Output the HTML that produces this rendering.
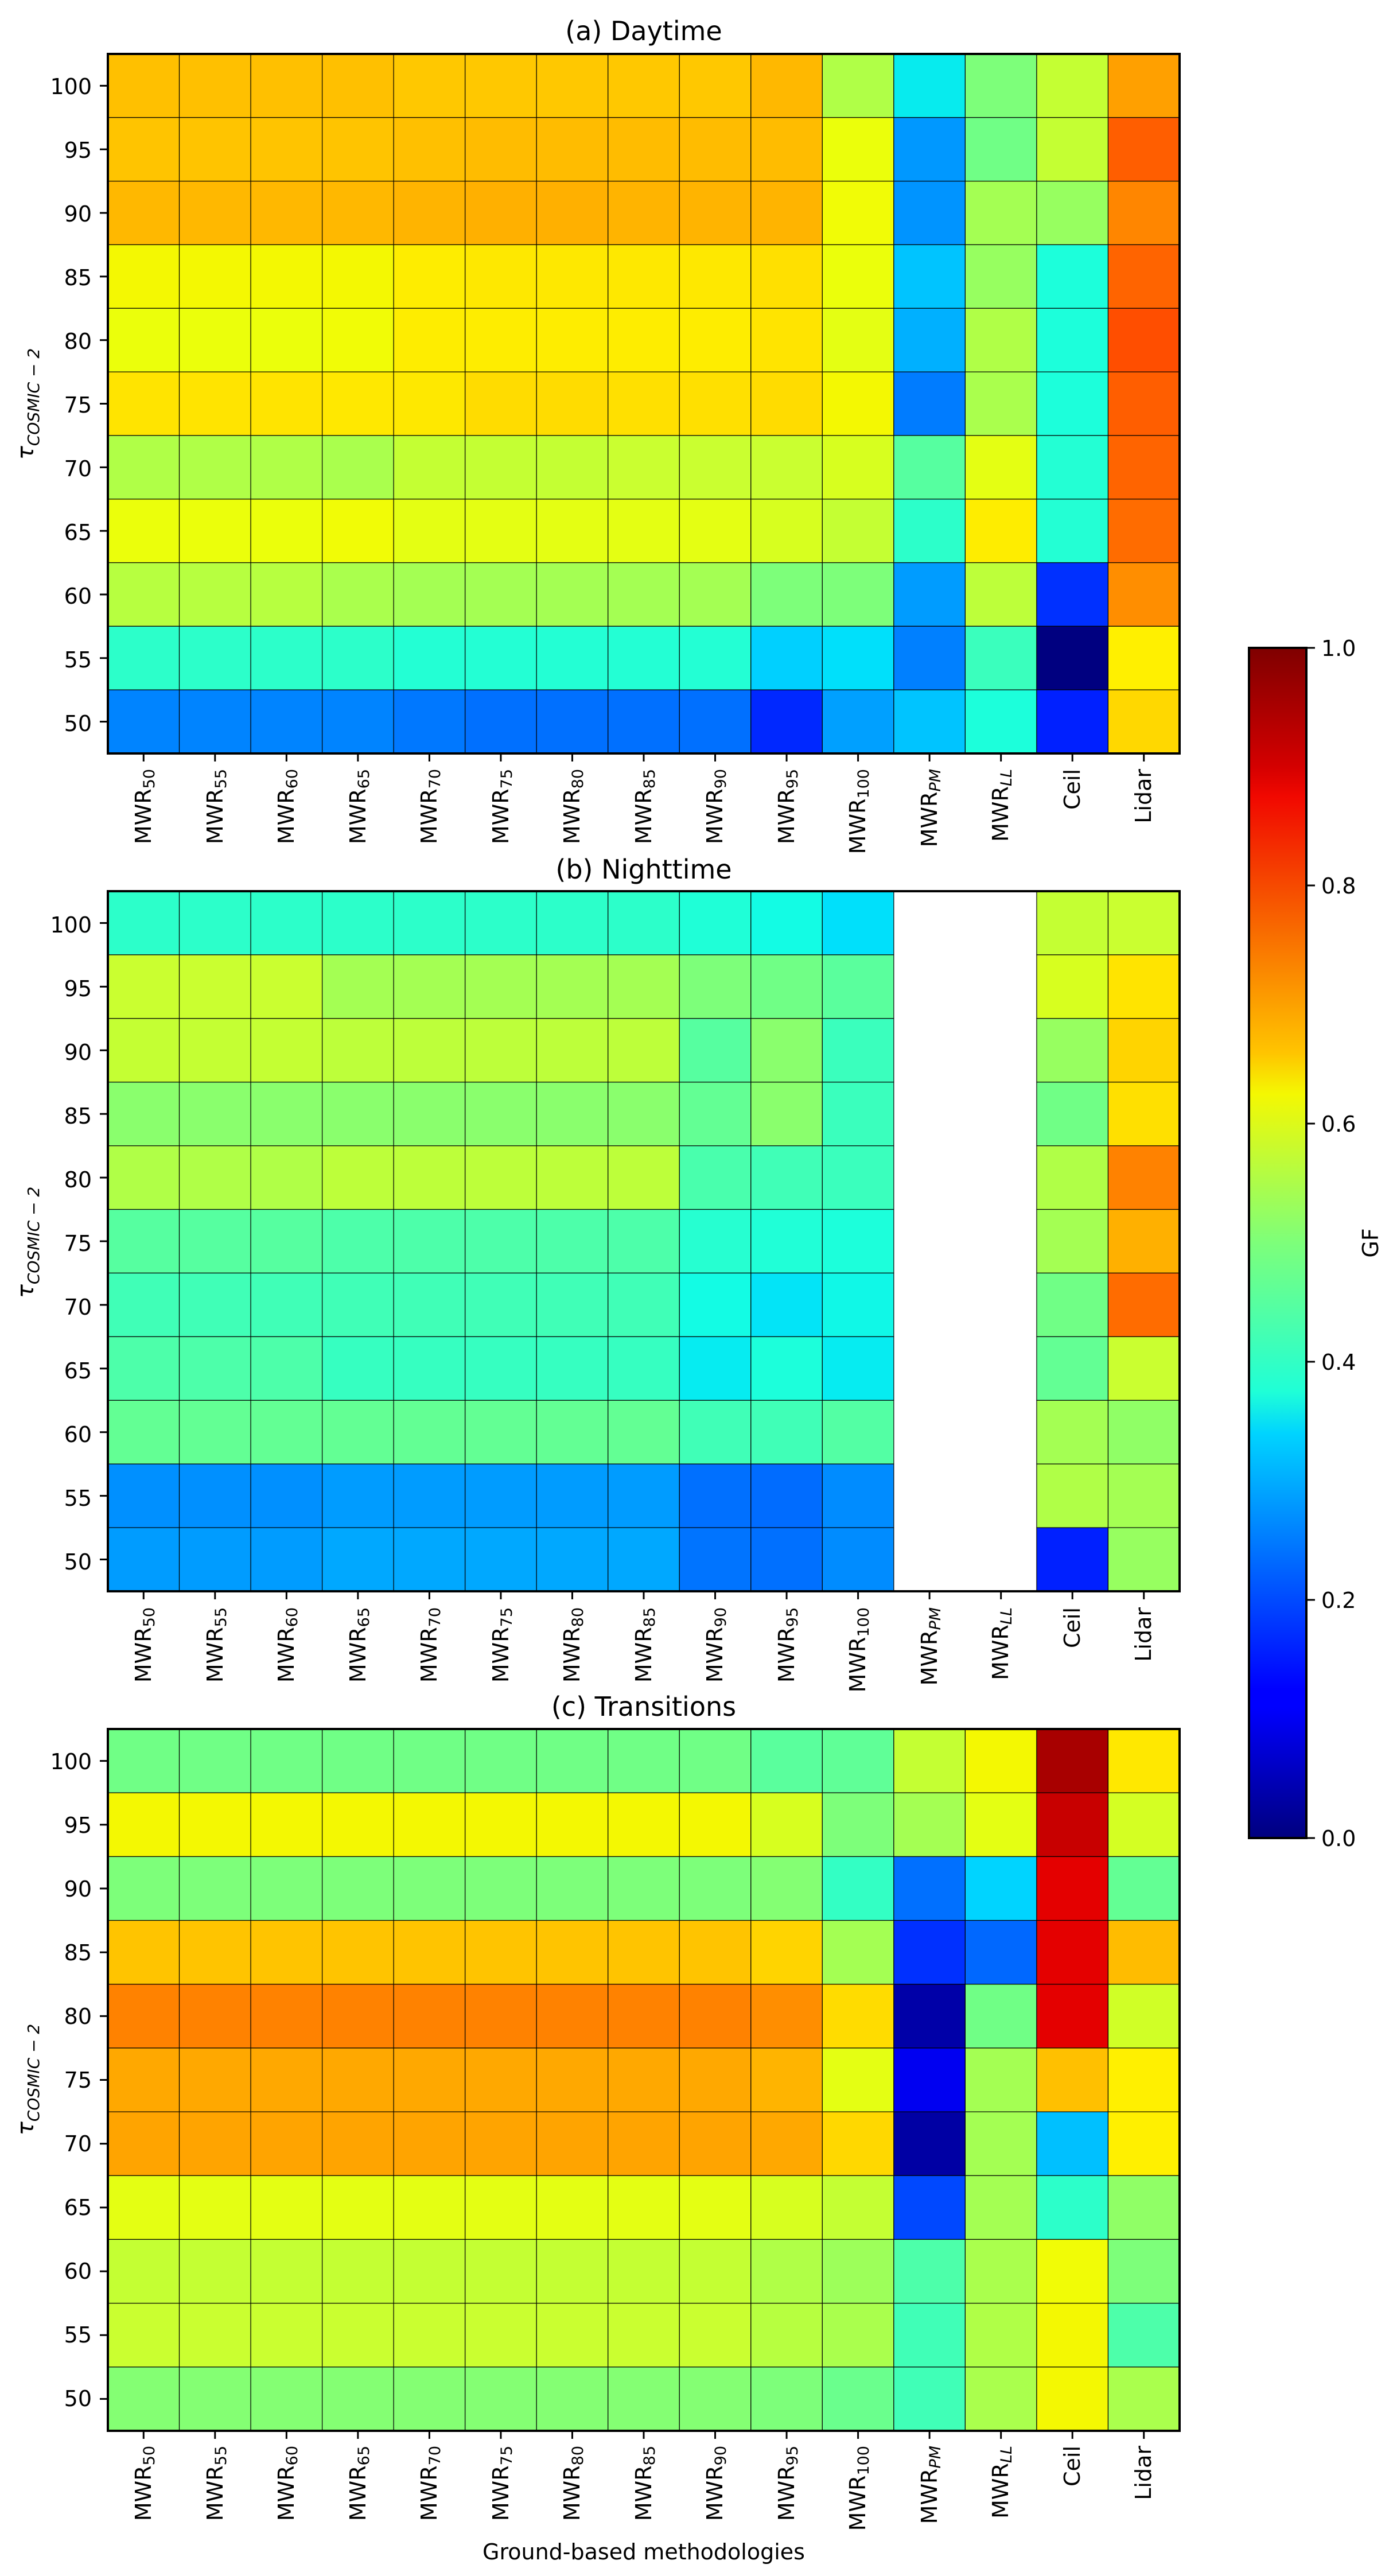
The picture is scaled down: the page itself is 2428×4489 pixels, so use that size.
<!DOCTYPE html>
<html><head><meta charset="utf-8"><style>html,body{margin:0;padding:0;background:#fff;}svg{display:block;}text{font-family:"DejaVu Sans","Liberation Sans",sans-serif;fill:#000;}</style></head>
<body>
<svg id="s" width="2428" height="4489" xmlns="http://www.w3.org/2000/svg">
<defs><linearGradient id="jet" x1="0" y1="1" x2="0" y2="0">
<stop offset="0" stop-color="#00007F"/><stop offset="0.11" stop-color="#0000FF"/><stop offset="0.125" stop-color="#0000FF"/><stop offset="0.34" stop-color="#00D4FF"/><stop offset="0.375" stop-color="#1FFFD7"/><stop offset="0.5" stop-color="#7DFF7A"/><stop offset="0.625" stop-color="#F4F802"/><stop offset="0.66" stop-color="#FFC400"/><stop offset="0.875" stop-color="#F10800"/><stop offset="0.9" stop-color="#D40000"/><stop offset="1" stop-color="#7F0000"/></linearGradient></defs>
<g id="cells"></g>
<g id="frames"></g>
<!-- titles -->
<text x="1122" y="70" font-size="46" text-anchor="middle">(a) Daytime</text>
<text x="1122" y="1531" font-size="46" text-anchor="middle">(b) Nighttime</text>
<text x="1122" y="2990" font-size="46" text-anchor="middle">(c) Transitions</text>
<!-- y labels -->
<text transform="translate(58,704) rotate(-90)" font-size="40" text-anchor="middle"><tspan font-style="italic">τ</tspan><tspan font-size="28" font-style="italic" dy="10">COSMIC − 2</tspan></text>
<text transform="translate(58,2165) rotate(-90)" font-size="40" text-anchor="middle"><tspan font-style="italic">τ</tspan><tspan font-size="28" font-style="italic" dy="10">COSMIC − 2</tspan></text>
<text transform="translate(58,3624) rotate(-90)" font-size="40" text-anchor="middle"><tspan font-style="italic">τ</tspan><tspan font-size="28" font-style="italic" dy="10">COSMIC − 2</tspan></text>
<g id="ylab" font-size="38" text-anchor="end">
<text x="160" y="164">100</text><text x="160" y="275">95</text><text x="160" y="386">90</text><text x="160" y="497">85</text><text x="160" y="608">80</text><text x="160" y="719">75</text><text x="160" y="830">70</text><text x="160" y="941">65</text><text x="160" y="1052">60</text><text x="160" y="1163">55</text><text x="160" y="1274">50</text>
<text x="160" y="1625">100</text><text x="160" y="1736">95</text><text x="160" y="1847">90</text><text x="160" y="1958">85</text><text x="160" y="2069">80</text><text x="160" y="2180">75</text><text x="160" y="2291">70</text><text x="160" y="2402">65</text><text x="160" y="2513">60</text><text x="160" y="2624">55</text><text x="160" y="2735">50</text>
<text x="160" y="3083">100</text><text x="160" y="3194">95</text><text x="160" y="3305">90</text><text x="160" y="3416">85</text><text x="160" y="3527">80</text><text x="160" y="3638">75</text><text x="160" y="3749">70</text><text x="160" y="3860">65</text><text x="160" y="3971">60</text><text x="160" y="4082">55</text><text x="160" y="4193">50</text>
</g>
<g id="xl1" font-size="38" text-anchor="end">
<text transform="translate(263,1340) rotate(-90)">MWR<tspan font-size="27" dy="6">50</tspan></text>
<text transform="translate(388,1340) rotate(-90)">MWR<tspan font-size="27" dy="6">55</tspan></text>
<text transform="translate(512,1340) rotate(-90)">MWR<tspan font-size="27" dy="6">60</tspan></text>
<text transform="translate(637,1340) rotate(-90)">MWR<tspan font-size="27" dy="6">65</tspan></text>
<text transform="translate(761,1340) rotate(-90)">MWR<tspan font-size="27" dy="6">70</tspan></text>
<text transform="translate(886,1340) rotate(-90)">MWR<tspan font-size="27" dy="6">75</tspan></text>
<text transform="translate(1010,1340) rotate(-90)">MWR<tspan font-size="27" dy="6">80</tspan></text>
<text transform="translate(1135,1340) rotate(-90)">MWR<tspan font-size="27" dy="6">85</tspan></text>
<text transform="translate(1259,1340) rotate(-90)">MWR<tspan font-size="27" dy="6">90</tspan></text>
<text transform="translate(1384,1340) rotate(-90)">MWR<tspan font-size="27" dy="6">95</tspan></text>
<text transform="translate(1508,1340) rotate(-90)">MWR<tspan font-size="27" dy="6">100</tspan></text>
<text transform="translate(1633,1340) rotate(-90)">MWR<tspan font-size="27" dy="6" font-style="italic">PM</tspan></text>
<text transform="translate(1757,1340) rotate(-90)">MWR<tspan font-size="27" dy="6" font-style="italic">LL</tspan></text>
<text transform="translate(1882,1340) rotate(-90)">Ceil</text>
<text transform="translate(2006,1340) rotate(-90)">Lidar</text>
</g>
<use href="#xl1" y="1461"/>
<use href="#xl1" y="2922"/>
<text x="1122" y="4460" font-size="38" text-anchor="middle">Ground-based methodologies</text>
<!-- colorbar -->
<rect x="2177" y="1129" width="100" height="2074" fill="url(#jet)" stroke="#000" stroke-width="4"/>
<g stroke="#000" stroke-width="3">
<line x1="2277" y1="1129" x2="2292" y2="1129"/><line x1="2277" y1="1543" x2="2292" y2="1543"/><line x1="2277" y1="1958" x2="2292" y2="1958"/><line x1="2277" y1="2373" x2="2292" y2="2373"/><line x1="2277" y1="2788" x2="2292" y2="2788"/><line x1="2277" y1="3203" x2="2292" y2="3203"/></g>
<g font-size="38"><text x="2303" y="1143">1.0</text><text x="2303" y="1557">0.8</text><text x="2303" y="1972">0.6</text><text x="2303" y="2387">0.4</text><text x="2303" y="2802">0.2</text><text x="2303" y="3217">0.0</text></g>
<text transform="translate(2402,2166) rotate(-90)" font-size="38" text-anchor="middle">GF</text>
</svg>
<script>
var A=[
"FFC000 FFC000 FFC000 FFC000 FFC800 FFC800 FFC800 FFC800 FFC800 FFB800 B0FF47 07EBEE 7DFF7A C4FF33 FFA000",
"FFC400 FFC400 FFC400 FFC400 FFC000 FFBC00 FFBC00 FFBC00 FFBC00 FFBC00 EBFF0B 0098FF 70FF86 C4FF33 FF5E00",
"FFB800 FFB800 FFB800 FFB800 FFB400 FFB000 FFB000 FFB400 FFB400 FFB400 F1FC06 0094FF A4FF53 97FF60 FF8600",
"F4F802 F4F802 F4F802 F4F802 FEED00 FEE800 FEE800 FEE800 FEE800 FFE000 EBFF0B 00C4FF 97FF60 1CFFDB FF6400",
"EBFF0B EBFF0B EBFF0B F1FC06 FEED00 FEED00 FEED00 FEED00 FEED00 FFE400 E4FF13 00B0FF B0FF47 1CFFDB FF4E00",
"FFE400 FFE400 FFE400 FFE800 FEE800 FFDC00 FFDC00 FFE000 FFE000 FFDC00 F4F802 007CFF AAFF4D 1CFFDB FF5E00",
"B0FF47 B0FF47 B0FF47 AAFF4D C4FF33 C4FF33 C4FF33 CAFF30 CAFF30 CAFF30 D7FF1F 56FFA0 E4FF13 23FFD4 FF6400",
"EBFF0B EBFF0B EBFF0B F1FC06 E4FF13 E4FF13 E4FF13 E4FF13 E4FF13 D7FF1F C4FF33 2CFFCA FEED00 23FFD4 FF6C00",
"B7FF40 B7FF40 B7FF40 AAFF4D A4FF53 A4FF53 A4FF53 A4FF53 A4FF53 7DFF7A 7DFF7A 009CFF BDFF3A 0030FF FF8E00",
"2CFFCA 2CFFCA 2CFFCA 2CFFCA 23FFD4 23FFD4 23FFD4 23FFD4 23FFD4 00D0FF 00E0FB 0080FF 3AFFBD 000080 FFF000",
"0084FF 0084FF 0084FF 0084FF 0078FF 0070FF 0070FF 0070FF 0070FF 0028FF 00A0FF 00C4FF 1CFFDB 0020FF FFD800"];
var B=[
"2CFFCA 2CFFCA 2CFFCA 2CFFCA 2CFFCA 2CFFCA 2CFFCA 2CFFCA 1FFFD7 13FCE4 00E0FB w w C4FF33 CAFF30",
"CAFF30 CAFF30 CAFF30 A4FF53 A4FF53 A4FF53 A4FF53 A4FF53 7DFF7A 70FF86 5AFF9D w w D7FF1F FFE400",
"C4FF33 C4FF33 C4FF33 BDFF3A BDFF3A BDFF3A BDFF3A BDFF3A 56FFA0 8AFF6D 3AFFBD w w 97FF60 FFD400",
"8AFF6D 8AFF6D 8AFF6D 8AFF6D 8AFF6D 8AFF6D 8AFF6D 8AFF6D 63FF94 8AFF6D 3AFFBD w w 70FF86 FFE000",
"B0FF47 B0FF47 B0FF47 BDFF3A BDFF3A BDFF3A BDFF3A BDFF3A 49FFAD 40FFB7 3AFFBD w w B0FF47 FF8200",
"56FFA0 56FFA0 56FFA0 4DFFAA 4DFFAA 4DFFAA 4DFFAA 4DFFAA 26FFD1 20FFD7 1CFFDB w w A4FF53 FFB000",
"40FFB7 40FFB7 40FFB7 40FFB7 40FFB7 40FFB7 40FFB7 40FFB7 13FCE4 03E4F7 10F8E7 w w 70FF86 FF6C00",
"4DFFAA 4DFFAA 4DFFAA 36FFC1 36FFC1 36FFC1 36FFC1 36FFC1 06ECF1 1CFFDB 06ECF1 w w 63FF94 CAFF30",
"63FF94 63FF94 63FF94 63FF94 63FF94 63FF94 63FF94 63FF94 40FFB7 40FFB7 53FFA4 w w A4FF53 90FF66",
"0090FF 0090FF 0090FF 009CFF 009CFF 009CFF 009CFF 009CFF 0070FF 006CFF 008CFF w w B0FF47 A4FF53",
"009CFF 009CFF 009CFF 00A8FF 00A8FF 00A8FF 00A8FF 00A8FF 0074FF 0070FF 008CFF w w 0020FF 97FF60"];
function rep(c,n){return Array(n+1).join(c+" ");}
var C=[
rep("70FF86",9)+"5AFF9D 60FF97 C4FF33 F4F802 A80000 FFE800",
rep("F4F802",9)+"D7FF1F 7DFF7A A4FF53 E4FF13 C80000 D4FF23",
rep("7DFF7A",9)+"84FF73 33FFC4 0070FF 00D4FF E40000 63FF94",
rep("FFC400",9)+"FFD400 A4FF53 0030FF 0068FF E40000 FFBC00",
rep("FF8200",9)+"FF8E00 FFDC00 0000A8 70FF86 E40000 D0FF26",
rep("FFA800",9)+"FFB400 E4FF13 0000F1 A4FF53 FFC000 FFF000",
rep("FFA400",9)+"FFA800 FFD800 0000A4 A4FF53 00C0FF FFF000",
rep("E4FF13",9)+"D7FF1F C4FF33 0048FF A4FF53 2CFFCA 90FF66",
rep("C4FF33",9)+"B0FF47 9DFF5A 4DFFAA AAFF4D F1FC06 7DFF7A",
rep("CAFF30",9)+"B7FF40 AAFF4D 40FFB7 B0FF47 F4F802 4DFFAA",
rep("84FF73",9)+"7DFF7A 6AFF8D 40FFB7 AAFF4D F4F802 AAFF4D"];
var NS="http://www.w3.org/2000/svg",cells=document.getElementById("cells"),fr=document.getElementById("frames");
var x0=188,x1=2056,cw=(x1-x0)/15;
var P=[[A,94,1313],[B,1553,2773],[C,3013,4236]];
function el(t,a,p){var e=document.createElementNS(NS,t);for(var k in a)e.setAttribute(k,a[k]);p.appendChild(e);return e;}
P.forEach(function(p){var d=p[0],y0=p[1],y1=p[2],rh=(y1-y0)/11;
 for(var r=0;r<11;r++){var row=d[r].trim().split(/\s+/);
  for(var c=0;c<15;c++){var v=row[c];if(v==="w")continue;
   el("rect",{x:x0+c*cw,y:y0+r*rh,width:cw,height:rh,fill:"#"+v,stroke:"#000","stroke-width":1.2},cells);}}
 el("rect",{x:x0,y:y0,width:x1-x0,height:y1-y0,fill:"none",stroke:"#000","stroke-width":4},fr);
 for(var r=0;r<11;r++){var yy=y0+(r+0.5)*rh;el("line",{x1:174,y1:yy,x2:x0,y2:yy,stroke:"#000","stroke-width":3},fr);}
 for(var c=0;c<15;c++){var xx=x0+(c+0.5)*cw;el("line",{x1:xx,y1:y1,x2:xx,y2:y1+14,stroke:"#000","stroke-width":3},fr);}
});
</script>
</body></html>
